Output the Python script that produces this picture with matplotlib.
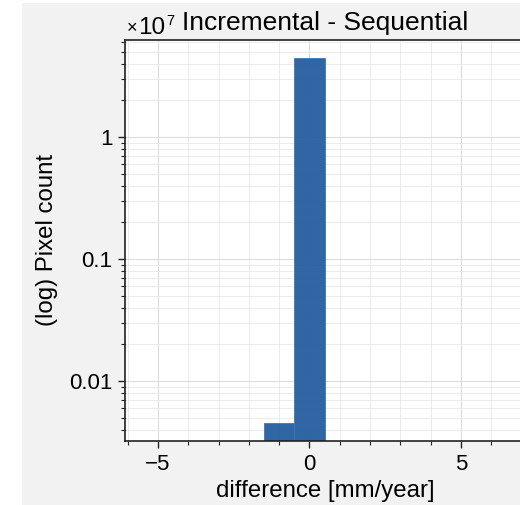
import numpy as np
import matplotlib
matplotlib.use("Agg")
import matplotlib.pyplot as plt
from matplotlib.ticker import FuncFormatter, LogLocator, MultipleLocator, NullFormatter
from matplotlib.patches import Rectangle

# Data: histogram of differences (bin edges in mm/year, counts in pixels)
bin_left = [-1.5, -0.5]
bin_width = [1.0, 1.0]
counts = [45500, 44400000]

title = "Incremental - Sequential"
xlabel = "difference [mm/year]"
ylabel = "(log) Pixel count"
scale_exp = 7

plt.rcParams['font.family'] = ['Liberation Sans', 'DejaVu Sans']

W, H = 520, 505
fig = plt.figure(figsize=(W / 100, H / 100), dpi=100, facecolor='white')
fig.patches.append(Rectangle((22 / W, 0), 1, 1 - 3 / H, transform=fig.transFigure,
                             facecolor='#f2f2f2', edgecolor='none', zorder=-10))

left, right, top, bottom = 125, 525, 40, 441
ax = fig.add_axes([left / W, (H - bottom) / H, (right - left) / W, (bottom - top) / H])
ax.set_facecolor('white')

ax.bar(bin_left, counts, width=bin_width, align='edge', color='#2860a2',
       edgecolor='#3a74b8', linewidth=0.6, alpha=0.96, zorder=2)

ax.set_yscale('log')
ax.set_xlim(-6.09, 7.12)
ax.set_ylim(0.00323 * 10**scale_exp, 6.24 * 10**scale_exp)

ax.yaxis.set_major_locator(LogLocator(base=10, numticks=20))
ax.yaxis.set_minor_locator(LogLocator(base=10, subs=np.arange(2, 10), numticks=50))
ax.yaxis.set_major_formatter(FuncFormatter(lambda v, p: f"{v / 10**scale_exp:g}"))
ax.yaxis.set_minor_formatter(NullFormatter())
ax.xaxis.set_major_locator(MultipleLocator(5))
ax.xaxis.set_minor_locator(MultipleLocator(1))
ax.xaxis.set_major_formatter(FuncFormatter(lambda v, p: f"{v:g}".replace('-', '\u2212')))

ax.set_axisbelow(True)
ax.grid(which='major', color='#dcdcdc', linewidth=0.8, zorder=0)
ax.grid(which='minor', color='#ebebeb', linewidth=0.7, zorder=0)

for s in ['left', 'bottom', 'top']:
    ax.spines[s].set_linewidth(1.2)
    ax.spines[s].set_color('#222222')
    ax.spines[s].set_zorder(5)
ax.spines['right'].set_visible(False)

ax.tick_params(which='major', direction='out', length=5, width=1, labelsize=16,
               colors='#222222', labelcolor='black', pad=4)
ax.tick_params(which='minor', direction='out', length=3, width=0.8, colors='#222222')
ax.tick_params(axis='x', which='both', top=False)
ax.tick_params(axis='y', which='both', right=False)

ax.set_xlabel(xlabel, fontsize=17.3, labelpad=4)
ax.set_ylabel(ylabel, fontsize=17.3, labelpad=8)
ax.set_title(title, fontsize=19, pad=7, x=(325 - left) / (right - left))

# offset label "x10^7"
ax.annotate('\u00d7', xy=(0, 1), xycoords='axes fraction', xytext=(1.0, 4.8),
            textcoords='offset points', fontsize=13, ha='left', va='baseline')
ax.annotate('10', xy=(0, 1), xycoords='axes fraction', xytext=(9.5, 4.3),
            textcoords='offset points', fontsize=17.5, ha='left', va='baseline')
ax.annotate(str(scale_exp), xy=(0, 1), xycoords='axes fraction', xytext=(30.0, 11.0),
            textcoords='offset points', fontsize=10.5, ha='left', va='baseline')

fig.savefig('out.png', dpi=100, facecolor='white')
